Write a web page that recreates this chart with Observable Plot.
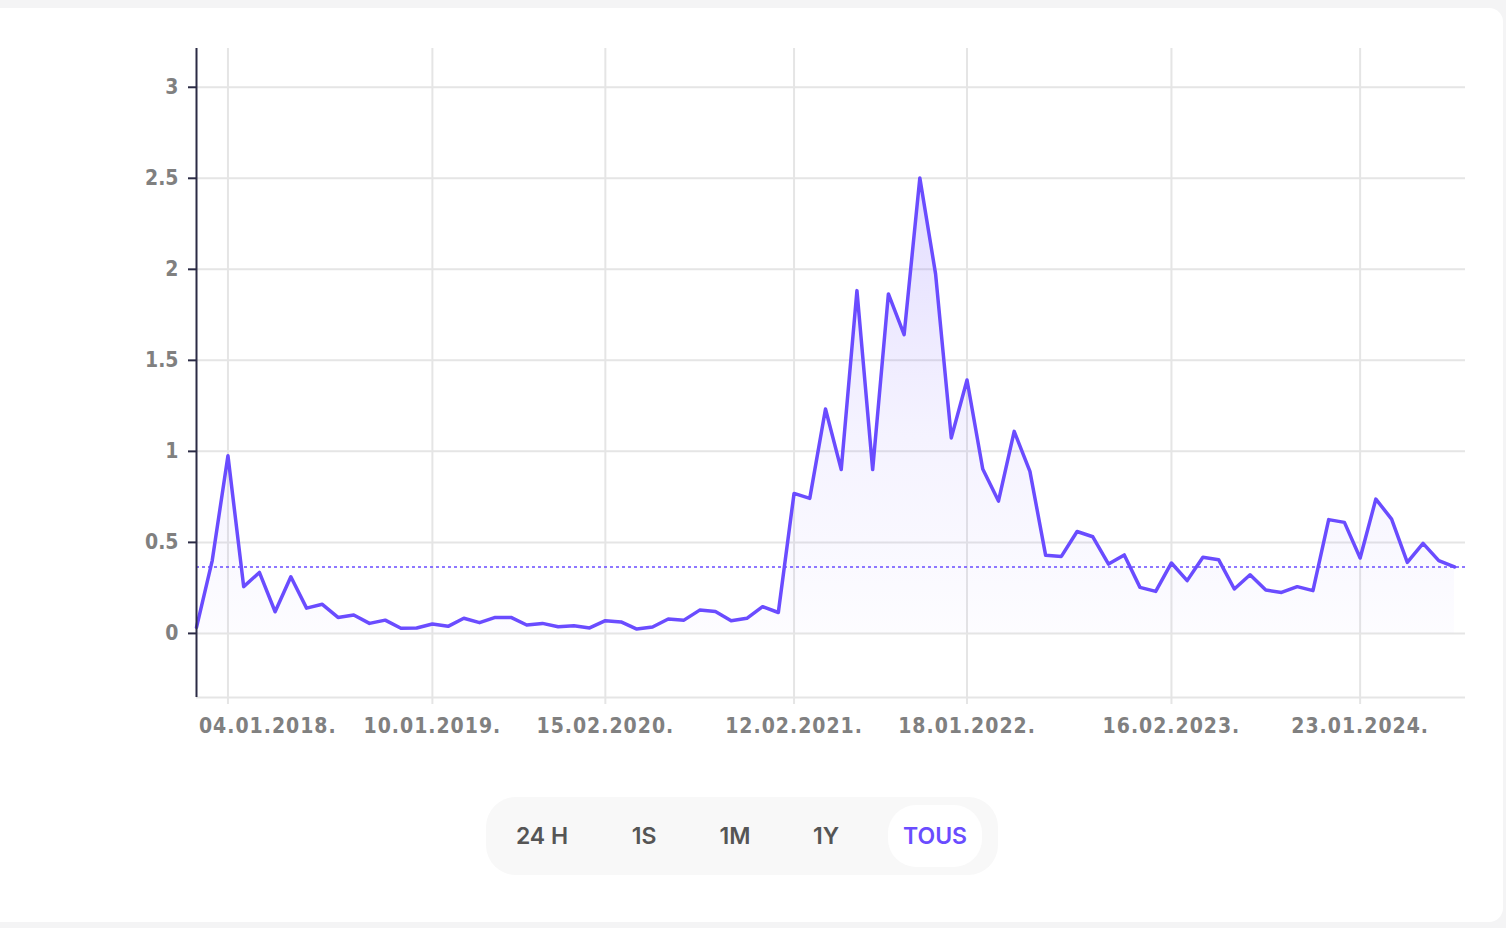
<!DOCTYPE html>
<html>
<head>
<meta charset="utf-8">
<script src="https://cdn.jsdelivr.net/npm/d3@7"></script>
<script src="https://cdn.jsdelivr.net/npm/@observablehq/plot@0.6"></script>
<style>
  html, body { margin:0; padding:0; width:1506px; height:928px; overflow:hidden; background:#f4f4f5; }
  #card { position:absolute; left:0; top:8px; width:1503px; height:914px; background:#ffffff; border-radius:0 14px 14px 0; }
  #chart { position:absolute; left:0; top:0; }
  #chart svg { font-family:"DejaVu Sans Condensed", "DejaVu Sans", sans-serif; font-stretch:condensed; font-weight:bold; }
  #chart g[aria-label="x-axis tick label"] { letter-spacing:1px; }
  #buttons { position:absolute; left:486px; top:797px; width:512px; height:78px; background:#f8f8f8; border-radius:30px; font-family:Inter, "Open Sans", sans-serif; font-weight:600; font-size:23px; color:#555555; }
  #buttons .pill { position:absolute; left:402px; top:8px; width:94px; height:62px; background:#ffffff; border-radius:28px; }
  #buttons span { position:absolute; top:39px; transform:translate(-50%,-50%); white-space:nowrap; line-height:1; }
  #buttons span.active { color:#6a4cff; }
</style>
</head>
<body>
<div id="card"></div>
<div id="chart"></div>
<div id="buttons">
  <div class="pill"></div>
  <span style="left:56px">24 H</span>
  <span style="left:158px">1S</span>
  <span style="left:249px">1M</span>
  <span style="left:340px">1Y</span>
  <span class="active" style="left:449px">TOUS</span>
</div>
<script>
// Values (one point per period, 81 points)
const values = [
  0.033, 0.40, 0.976, 0.257, 0.335, 0.119, 0.311, 0.139, 0.16, 0.088,
  0.101, 0.055, 0.073, 0.028, 0.03, 0.052, 0.039, 0.083, 0.059, 0.088,
  0.088, 0.046, 0.055, 0.037, 0.042, 0.03, 0.07, 0.063, 0.024, 0.035,
  0.079, 0.073, 0.128, 0.121, 0.07, 0.083, 0.147, 0.115, 0.769, 0.742,
  1.233, 0.90, 1.883, 0.90, 1.865, 1.641, 2.502, 1.975, 1.074, 1.392,
  0.903, 0.727, 1.11, 0.89, 0.429, 0.423, 0.56, 0.531, 0.381, 0.431,
  0.253, 0.231, 0.387, 0.29, 0.418, 0.405, 0.244, 0.322, 0.238, 0.225,
  0.257, 0.235, 0.625, 0.61, 0.414, 0.738, 0.628, 0.39, 0.495, 0.40,
  0.365
];
const tickIndex = [2, 15, 26, 38, 49, 62, 74];
const tickLabels = ["04.01.2018.", "10.01.2019.", "15.02.2020.", "12.02.2021.", "18.01.2022.", "16.02.2023.", "23.01.2024."];
const yTicks = [0, 0.5, 1, 1.5, 2, 2.5, 3];

const data = values.map((v, i) => ({i, v}));
const current = values[values.length - 1];
const labelOf = d => tickLabels[tickIndex.indexOf(d)];

const LINE = "#6a4cff";
const GRID = "#e5e5e5";
const AXIS = "#2b2b45";
const TEXT = "#808080";

function gradientDefs() {
  const ns = "http://www.w3.org/2000/svg";
  const defs = document.createElementNS(ns, "defs");
  const g = document.createElementNS(ns, "linearGradient");
  g.setAttribute("id", "areaGrad");
  g.setAttribute("x1", "0"); g.setAttribute("y1", "0");
  g.setAttribute("x2", "0"); g.setAttribute("y2", "1");
  [["0%", 0.19], ["55%", 0.07], ["100%", 0.015]].forEach(([o, a]) => {
    const s = document.createElementNS(ns, "stop");
    s.setAttribute("offset", o);
    s.setAttribute("stop-color", LINE);
    s.setAttribute("stop-opacity", a);
    g.appendChild(s);
  });
  defs.appendChild(g);
  return defs;
}

const chart = Plot.plot({
  width: 1506,
  height: 760,
  marginLeft: 196,
  marginRight: 41,
  marginTop: 48,
  marginBottom: 63,
  style: {fontSize: "21px", color: TEXT, background: "transparent", overflow: "visible"},
  x: {type: "linear", domain: [0, 80.7]},
  y: {domain: [-0.352, 3.213]},
  marks: [
    gradientDefs,
    Plot.gridY(yTicks, {stroke: GRID, strokeOpacity: 1, strokeWidth: 2}),
    Plot.gridX(tickIndex, {stroke: GRID, strokeOpacity: 1, strokeWidth: 2}),
    Plot.ruleY([-0.352], {stroke: GRID, strokeWidth: 2}),
    Plot.areaY(data, {x: "i", y: "v", fill: "url(#areaGrad)"}),
    Plot.ruleY([current], {stroke: LINE, strokeWidth: 1.5, strokeDasharray: "3,3"}),
    Plot.lineY(data, {x: "i", y: "v", stroke: LINE, strokeWidth: 3.5, strokeLinejoin: "round"}),
    Plot.axisY(yTicks, {tickSize: 8, tickPadding: 10, stroke: AXIS, strokeWidth: 2, fill: TEXT, tickFormat: d => String(d), label: null}),
    Plot.ruleX([0], {stroke: AXIS, strokeWidth: 2}),
    // tick stubs below the frame
    Plot.axisX(tickIndex, {tickSize: 7, stroke: GRID, strokeWidth: 2, tickFormat: () => "", label: null}),
    // tick labels (first one kept inside the frame)
    Plot.axisX(tickIndex.slice(0, 1), {tickSize: 0, tickPadding: 21, fill: TEXT, tickFormat: labelOf, textAnchor: "start", dx: -29, label: null}),
    Plot.axisX(tickIndex.slice(1), {tickSize: 0, tickPadding: 21, fill: TEXT, tickFormat: labelOf, label: null})
  ]
});
document.getElementById("chart").appendChild(chart);
</script>
</body>
</html>
